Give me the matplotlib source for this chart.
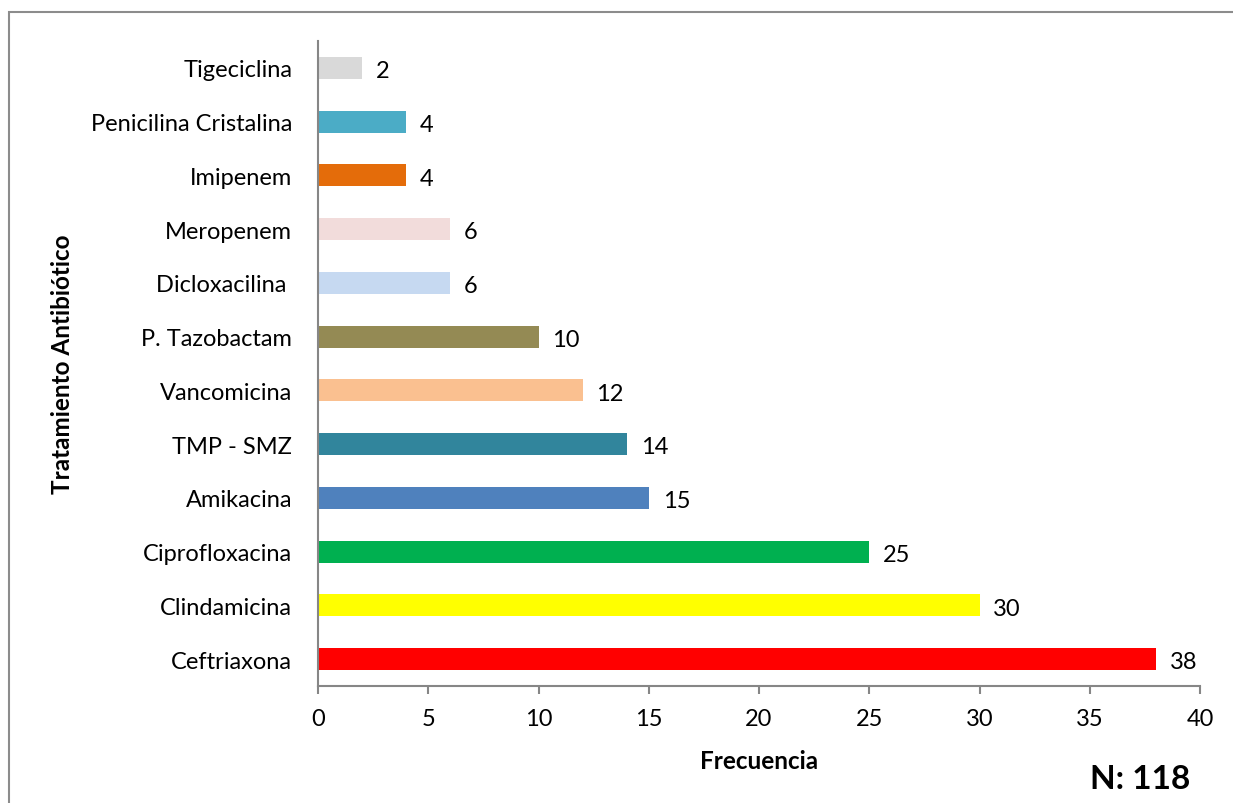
import matplotlib
matplotlib.use("Agg")
import matplotlib.pyplot as plt
from matplotlib.patches import Rectangle

# Antibiotic treatments (bottom to top) and their frequencies
tratamientos = ["Ceftriaxona", "Clindamicina", "Ciprofloxacina", "Amikacina",
                "TMP - SMZ", "Vancomicina", "P. Tazobactam", "Dicloxacilina ",
                "Meropenem", "Imipenem", "Penicilina Cristalina", "Tigeciclina"]
frecuencias = [38, 30, 25, 15, 14, 12, 10, 6, 6, 4, 4, 2]
colores = ["#FF0000", "#FFFF00", "#00B050", "#4F81BD", "#31859C", "#FAC090",
           "#948A54", "#C6D9F1", "#F2DCDB", "#E46C0A", "#4BACC6", "#D9D9D9"]
x_ticks = [0, 5, 10, 15, 20, 25, 30, 35, 40]

plt.rcParams['font.family'] = ['Lato', 'DejaVu Sans']

fig = plt.figure(figsize=(12.33, 8.04), dpi=100)
fig.patches.append(Rectangle((8.5 / 1233, -0.1), 1.2, 1.1 - 12.5 / 804,
                             transform=fig.transFigure, fill=False,
                             edgecolor="#8C8C8C", linewidth=1.5, zorder=0))

ax = fig.add_axes([318 / 1233, 117 / 804, 882 / 1233, 645 / 804])
pos = list(range(len(tratamientos)))
ax.barh(pos, frecuencias, height=0.41, color=colores, zorder=2)

for p, v in zip(pos, frecuencias):
    ax.annotate(str(v), (v, p), xytext=(10, -2), textcoords="offset points",
                ha="left", va="center", fontsize=17, color="black")

ax.set_xlim(0, 40)
ax.set_ylim(-0.5, len(tratamientos) - 0.5)
ax.set_xticks(x_ticks)
ax.set_xticklabels([str(t) for t in x_ticks], fontsize=17)
ax.set_yticks(pos)
ax.set_yticklabels(tratamientos, fontsize=17)

for side in ("top", "right"):
    ax.spines[side].set_visible(False)
for side in ("left", "bottom"):
    ax.spines[side].set_color("#868686")
    ax.spines[side].set_linewidth(1.5)

ax.tick_params(axis="x", direction="out", length=6, width=1.5, color="#868686", pad=10)
ax.tick_params(axis="y", length=0, pad=18.5)

ax.set_xlabel("Frecuencia", fontsize=17.5, fontweight="bold")
ax.xaxis.set_label_coords(0.5, -(762 - 687) / 645, transform=ax.transAxes)
ax.set_ylabel("Tratamiento Antibiótico", fontsize=17.5, fontweight="bold")
ax.yaxis.set_label_coords((62 - 318) / 882, 0.5 + (365 - 364.5) / 645)
ax.yaxis.label.set_va("center")
ax.xaxis.label.set_va("center")

fig.text(1140 / 1233, 24 / 804, "N: 118", ha="center", va="center",
         fontsize=24, fontweight="bold")

fig.savefig("out.png", dpi=100, facecolor="white")
